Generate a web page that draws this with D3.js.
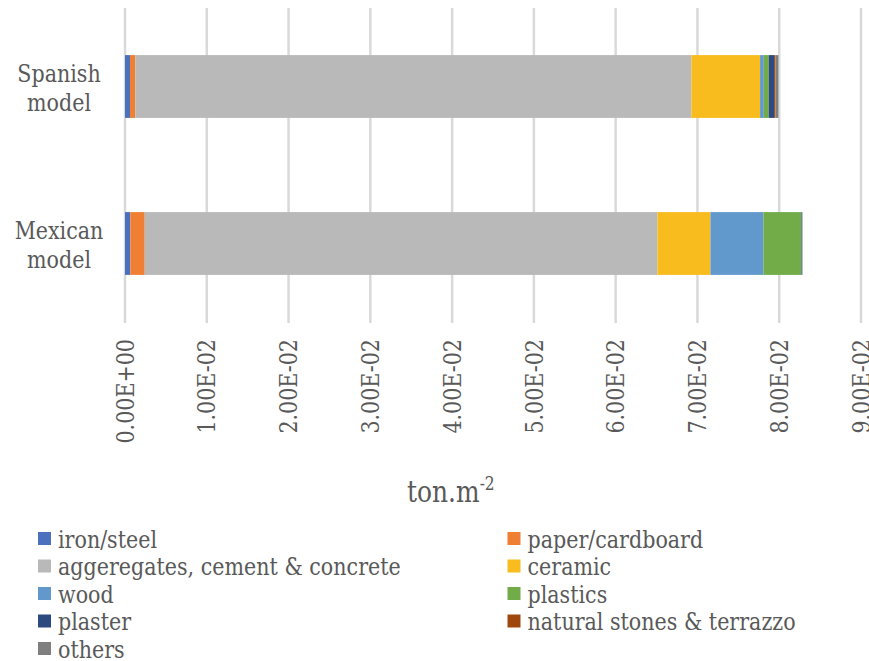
<!DOCTYPE html>
<html>
<head>
<meta charset="utf-8">
<script src="https://cdn.jsdelivr.net/npm/d3@7"></script>
<style>
  html, body { margin: 0; padding: 0; background: #fff; }
  svg { display: block; }
  svg text { font-family: "DejaVu Serif", serif; fill: #595959; }
</style>
</head>
<body>
<svg id="chart" width="869" height="661"></svg>
<script>
// Material quantities per model (ton per m2)
const models = ["Spanish model", "Mexican model"];
const materials = [
  "iron/steel", "paper/cardboard", "aggeregates, cement & concrete", "ceramic",
  "wood", "plastics", "plaster", "natural stones & terrazzo", "others"
];
const spanishValues = [0.00061, 0.00065, 0.0680, 0.0084, 0.00045, 0.00061, 0.00065, 0.00016, 0.00037];
const mexicanValues = [0.00065, 0.00176, 0.0627, 0.00648, 0.00648, 0.00465, 0.0001, 0.0, 0.00002];
const xTicks = [0, 0.01, 0.02, 0.03, 0.04, 0.05, 0.06, 0.07, 0.08, 0.09];
const xTickLabels = ["0.00E+00", "1.00E-02", "2.00E-02", "3.00E-02", "4.00E-02",
                     "5.00E-02", "6.00E-02", "7.00E-02", "8.00E-02", "9.00E-02"];
const colors = ["#4a70be", "#ee7f33", "#b9b9b9", "#f8bc1f", "#6199cd", "#71ac48", "#2c4a80", "#9e480e", "#7f7f7f"];

const rows = models.map((m, i) => {
  const vals = i === 0 ? spanishValues : mexicanValues;
  const r = { model: m };
  materials.forEach((k, j) => { r[k] = vals[j]; });
  return r;
});

const svg = d3.select("#chart");
const plotLeft = 125, plotRight = 861, plotTop = 8, plotBottom = 322;
// the serif face is set a little narrower so its proportions read like a Times-style face
const squeeze = 0.86;

const x = d3.scaleLinear().domain([0, 0.09]).range([plotLeft, plotRight]);
const y = d3.scaleBand().domain(models).range([plotTop, plotBottom]).paddingInner(0.6).paddingOuter(0.3);
const color = d3.scaleOrdinal().domain(materials).range(colors);

// vertical gridlines
svg.append("g").selectAll("line").data(xTicks).join("line")
  .attr("x1", d => x(d)).attr("x2", d => x(d))
  .attr("y1", plotTop).attr("y2", plotBottom + 1)
  .attr("stroke", "#d9d9d9").attr("stroke-width", 2.5);

// stacked bars
const stacked = d3.stack().keys(materials)(rows);
svg.append("g").selectAll("g").data(stacked).join("g")
  .attr("fill", d => color(d.key))
  .selectAll("rect").data(d => d).join("rect")
  .attr("x", d => x(d[0]))
  .attr("width", d => Math.max(0, x(d[1]) - x(d[0])))
  .attr("y", d => y(d.data.model))
  .attr("height", y.bandwidth());

// rotated tick labels
const tickIdx = d3.range(xTicks.length);
svg.append("g").selectAll("text").data(tickIdx).join("text")
  .attr("transform", i => `translate(${x(xTicks[i])},339) rotate(-90) scale(${squeeze},1)`)
  .attr("text-anchor", "end")
  .attr("dy", "0.36em")
  .style("font-size", "24px")
  .text(i => xTickLabels[i]);

// category labels (two lines)
const cat = svg.append("g").selectAll("g").data(models).join("g")
  .attr("transform", m => `translate(59,${y(m) + y.bandwidth() / 2}) scale(${squeeze},1)`);
cat.each(function(m) {
  const parts = m.split(" ");
  const t = d3.select(this).append("text").attr("text-anchor", "middle").style("font-size", "24px");
  t.append("tspan").attr("x", 0).attr("y", -5).text(parts[0]);
  t.append("tspan").attr("x", 0).attr("y", 25).text(parts[1]);
});

// axis title
const title = svg.append("g").attr("transform", `translate(407,502) scale(${squeeze},1)`)
  .append("text").style("font-size", "29px");
title.append("tspan").text("ton.m");
title.append("tspan").attr("dy", -12).style("font-size", "18px").text("-2");

// legend, two columns
const legend = svg.append("g").selectAll("g").data(materials).join("g")
  .attr("transform", (d, i) => `translate(${i % 2 === 0 ? 38 : 507.5},${532 + Math.floor(i / 2) * 27.5})`);
legend.append("rect").attr("width", 13).attr("height", 13).attr("fill", d => color(d));
legend.append("g").attr("transform", `translate(20,15.5) scale(${squeeze},1)`)
  .append("text").style("font-size", "24px").text(d => d);
</script>
</body>
</html>
